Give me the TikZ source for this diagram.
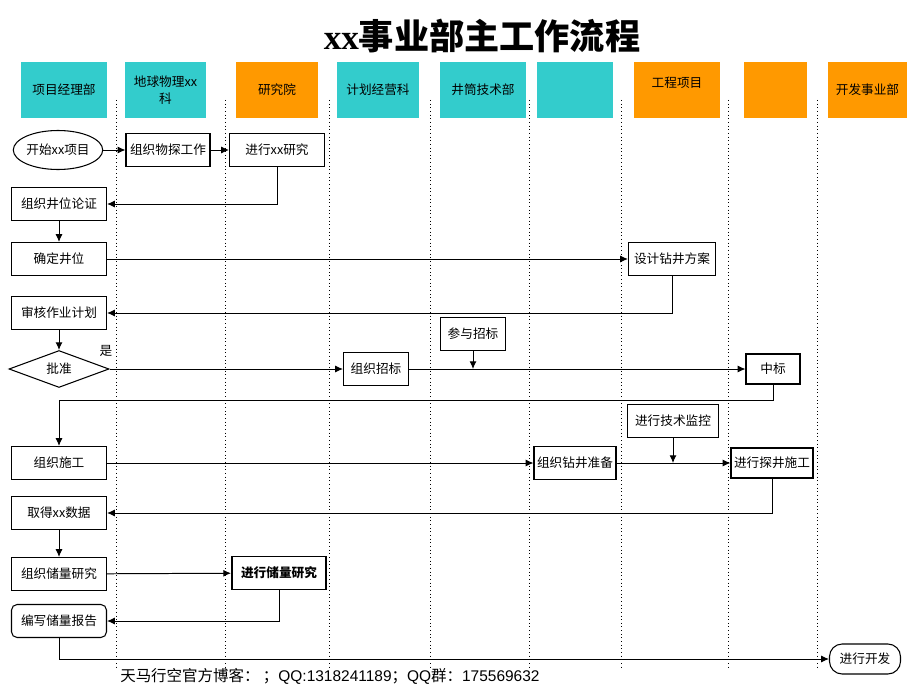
\documentclass[tikz,border=0pt]{standalone}
\usepackage{fontspec}
\setmainfont{Liberation Serif}
\setsansfont{Liberation Sans}
\newfontfamily\cjk{Noto Sans CJK SC}
\usepackage{tikz}
\usetikzlibrary{shapes, positioning, arrows.meta}
\definecolor{laneteal}{HTML}{33CCCC}
\definecolor{laneorange}{HTML}{FF9900}
\tikzset{
	lane/.style={minimum width=2.1cm, minimum height=1.4cm, inner sep=1pt, align=center, font=\cjk\fontsize{9}{12}\selectfont},
	box/.style={draw, line width=0.75pt, minimum height=0.825cm, inner sep=1pt, font=\cjk\fontsize{9}{11}\selectfont},
	startnode/.style={box, ellipse, inner sep=0pt},
	decide/.style={box, diamond, inner sep=0pt},
	flow/.style={-{Latex[length=5.5pt, width=5pt]}, line width=0.7pt},
	sep/.style={dotted, line width=0.6pt}
}

\begin{document}
\begin{tikzpicture}[x=0.025cm, y=-0.025cm]
				\useasboundingbox (0,0) rectangle (920,690);
				\node[font=\cjk\bfseries\fontsize{25}{30}\selectfont] (title) at (482,36) {{\rmfamily\bfseries xx}事业部主工作流程};
				
				\foreach \x in {116,225,329,430,529,621,728,817}
					\draw[sep] (\x,100) -- (\x,667);
				
				\node[lane, fill=laneteal, minimum width=2.15cm] (xmjl) at (64,90) {项目经理部};
				\node[lane, fill=laneteal, minimum width=2.025cm] (dqwl) at (165.5,90) {地球物理xx\\科};
				\node[lane, fill=laneorange, minimum width=2.05cm] (yjy) at (277,90) {研究院};
				\node[lane, fill=laneteal, minimum width=2.05cm] (jhjy) at (378,90) {计划经营科};
				\node[lane, fill=laneteal, minimum width=2.15cm] (jtjs) at (483,90) {井筒技术部};
				\node[lane, fill=laneteal, minimum width=1.9cm] (blank1) at (575,90) {};
				\node[lane, fill=laneorange, minimum width=2.15cm, text depth=0.4cm] (gcxm) at (677,90) {工程项目};
				\node[lane, fill=laneorange, minimum width=1.575cm] (blank2) at (775.5,90) {};
				\node[lane, fill=laneorange, minimum width=1.975cm] (kfsy) at (867.5,90) {开发事业部};
				
				\node[startnode, minimum width=2.125cm, minimum height=0.975cm] (start) at (58,150) {开始xx项目};
				\node[box, minimum width=2.1cm] (wutan) at (168,150) {组织物探工作};
				\node[box, minimum width=2.375cm] (xxyj) at (277,150) {进行xx研究};
				\node[box, minimum width=2.375cm] (lunzheng) at (59,204) {组织井位论证};
				\node[box, minimum width=2.375cm] (jingwei) at (59,259) {确定井位};
				\node[box, minimum width=2.175cm] (fangan) at (672,259) {设计钻井方案};
				\node[box, minimum width=2.375cm] (shenhe) at (59,313) {审核作业计划};
				\node[decide, minimum width=2.5cm, minimum height=0.775cm] (pizhun) at (59,369) {批准};
				\node[font=\cjk\fontsize{9}{11}\selectfont, inner sep=0pt] (shi) at (106,351) {是};
				\node[box, minimum width=1.625cm] (zhaobiao) at (376,369) {组织招标};
				\node[box, minimum width=1.625cm] (canyu) at (473,334) {参与招标};
				\node[box, minimum width=1.35cm, minimum height=0.75cm] (zhongbiao) at (773,369) {中标};
				\node[box, minimum width=2.275cm] (jiankong) at (673,421) {进行技术监控};
				\node[box, minimum width=2.375cm] (shigong) at (59,463) {组织施工};
				\node[box, minimum width=2.05cm] (zhunbei) at (575,463) {组织钻井准备};
				\node[box, minimum width=2.05cm, minimum height=0.75cm] (tanjing) at (772,463) {进行探井施工};
				\node[box, minimum width=2.375cm] (shuju) at (59,513) {取得xx数据};
				\node[box, minimum width=2.375cm] (zzcl) at (59,574) {组织储量研究};
				\node[box, line width=1.4pt, minimum width=2.35cm, font=\cjk\bfseries\fontsize{9}{11}\selectfont] (jxcl) at (279,573) {进行储量研究};
				\node[box, rounded corners=4pt, minimum width=2.375cm] (baogao) at (59,621) {编写储量报告};
				\node[box, rounded corners=9pt, minimum width=1.775cm, minimum height=0.75cm] (kaifa) at (865,659) {进行开发};
				
				\coordinate (turn) at (59,400);
				
				\draw[flow] (start) -- (wutan);
				\draw[flow] (wutan) -- (xxyj);
				\draw[flow] (xxyj.south) |- (lunzheng.east);
				\draw[flow] (lunzheng) -- (jingwei);
				\draw[flow] (jingwei) -- (fangan);
				\draw[flow] (fangan.south) |- (shenhe.east);
				\draw[flow] (shenhe) -- (pizhun);
				\draw[flow] (pizhun.east) -- (zhaobiao.west);
				\draw[flow] (zhaobiao) -- (zhongbiao);
				\draw[flow] (canyu.south) -- (canyu |- zhaobiao);
				\draw[flow] (zhongbiao.south) |- (turn) -- (shigong.north);
				\draw[flow] (shigong) -- (zhunbei);
				\draw[flow] (zhunbei) -- (tanjing);
				\draw[flow] (jiankong.south) -- (jiankong |- zhunbei);
				\draw[flow] (tanjing.south) |- (shuju.east);
				\draw[flow] (shuju) -- (zzcl);
				\draw[flow] (zzcl) -- (jxcl);
				\draw[flow] (jxcl.south) |- (baogao.east);
				\draw[flow] (baogao.south) |- (kaifa.west);
				
				\node[anchor=west, inner sep=0pt, font=\fontsize{11}{13}\selectfont] (footer) at (120,676)
				{{\cjk 天马行空官方博客：\ ；}{\sffamily QQ:1318241189}{\cjk ；}{\sffamily QQ}{\cjk 群：}{\sffamily 175569632}};
			\end{tikzpicture}
\end{document}
